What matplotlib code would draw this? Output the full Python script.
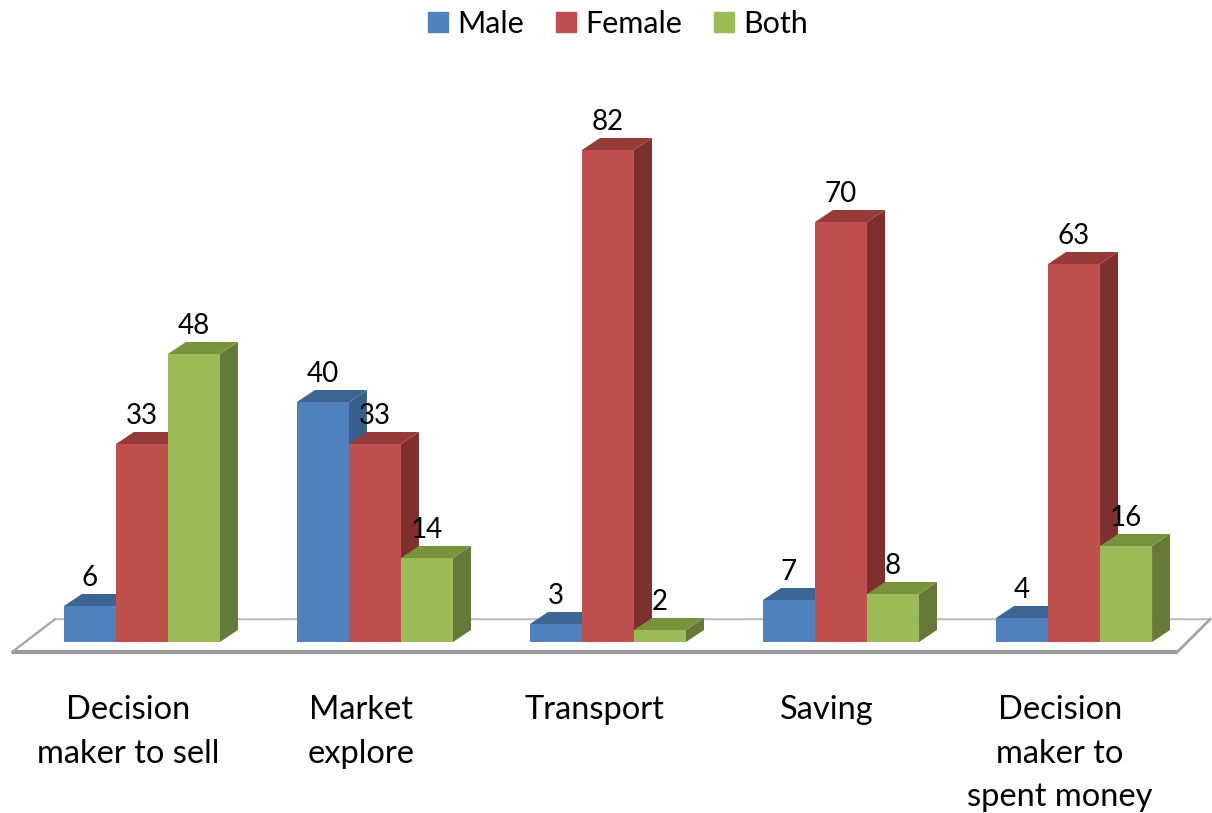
import matplotlib.pyplot as plt
import numpy as np
from matplotlib.patches import Polygon

plt.rcParams['font.family'] = ['Lato', 'DejaVu Sans']

categories = ['Decision\nmaker to sell', 'Market\nexplore', 'Transport', 'Saving',
              'Decision\nmaker to\nspent money']
series = ['Male', 'Female', 'Both']
male = [6, 40, 3, 7, 4]
female = [33, 33, 82, 70, 63]
both = [48, 14, 2, 8, 16]

front_c = ['#4F81BD', '#C0504D', '#9BBB59']
top_c = ['#3D6594', '#953B39', '#77933C']
side_c = ['#38608C', '#7D302E', '#657A38']

fig = plt.figure(figsize=(12.12, 8.13), dpi=100)
ax = fig.add_axes([0, 0, 1, 1])
ax.set_xlim(-0.609, 4.592)
ax.set_ylim(-28.5, 107)
ax.axis('off')

w = 52 / 233
dx = 18 / 233
dy = 2.0

# floor
floor = Polygon([(-0.558, -1.7), (-0.373, 3.8), (4.584, 3.8), (4.442, -1.7)],
                closed=True, facecolor='white', edgecolor='#BFBFBF', lw=1.5, zorder=1)
ax.add_patch(floor)
ax.plot([-0.558, 4.442], [-1.7, -1.7], color='#9A9A9A', lw=3, zorder=1,
        solid_capstyle='butt')
ax.plot([4.442, 4.584], [-1.7, 3.8], color='#A6A6A6', lw=2, zorder=1)
ax.plot([-0.558, -0.373], [-1.7, 3.8], color='#A6A6A6', lw=1.5, zorder=1)

x = np.arange(len(categories))
z = 2
for i in range(len(categories)):
    for j, vals in enumerate([male, female, both]):
        h = vals[i]
        left = x[i] + (j - 1.5) * w
        right = left + w
        side = Polygon([(right, 0), (right + dx, dy), (right + dx, h + dy), (right, h)],
                       closed=True, facecolor=side_c[j], edgecolor='none', zorder=z)
        top = Polygon([(left, h), (left + dx, h + dy), (right + dx, h + dy), (right, h)],
                      closed=True, facecolor=top_c[j], edgecolor='none', zorder=z)
        ax.add_patch(side)
        ax.add_patch(top)
        ax.bar(left, h, width=w, align='edge', color=front_c[j], zorder=z + 0.5)
        ax.text(left + w / 2, h + dy + 0.5, str(h), ha='center', va='bottom',
                fontsize=20, zorder=20)
        z += 1

for i, lab in enumerate(categories):
    ax.text(x[i] - 0.06, -8.9, lab, ha='center', va='top', fontsize=23.5,
            linespacing=1.55)

handles = [plt.Rectangle((0, 0), 1, 1, color=c) for c in front_c]
fig.legend(handles, series, loc='upper center', bbox_to_anchor=(0.51, 1.022), ncol=3,
           frameon=False, fontsize=22, handlelength=0.65, handleheight=0.65,
           handletextpad=0.3, columnspacing=1.05)

fig.savefig('out.png', dpi=100)
